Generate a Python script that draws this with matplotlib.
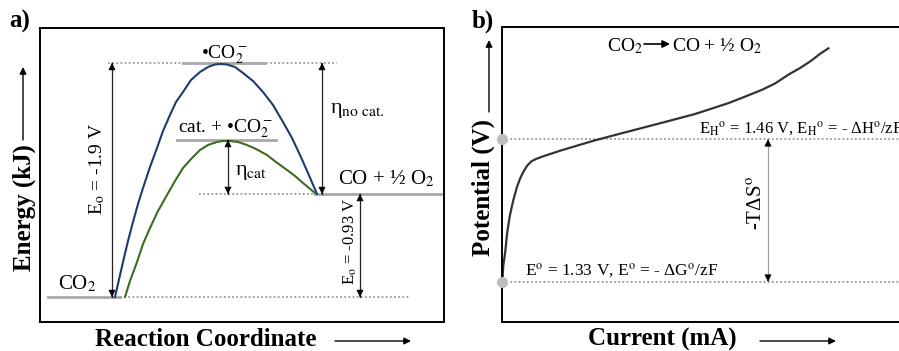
import matplotlib
matplotlib.use("Agg")
import matplotlib.pyplot as plt

plt.rcParams['font.family'] = ['Liberation Serif', 'DejaVu Serif']
plt.rcParams['mathtext.fontset'] = 'stix'

# ---- panel a: energy diagram (arbitrary units, reaction coordinate / energy)
blue_rc = [75, 83, 88, 93, 98, 103, 110, 117, 123, 130, 136, 143, 151, 160, 168,
           175, 181, 187, 195, 203, 213, 223, 233, 243, 252, 260, 268, 277]
blue_e = [25, 60, 81, 100, 118, 134, 155, 174, 191, 207, 220, 230, 242, 250, 255,
          257.5, 258, 257.5, 255, 249, 241, 230, 217, 200, 184, 167, 149, 128]
green_rc = [85, 90, 97, 103, 110, 118, 127, 135, 143, 152, 160, 168, 177, 183,
            190, 198, 207, 216, 227, 236, 247, 255, 263, 269, 275]
green_e = [25, 41, 60, 78, 94, 111, 127, 141, 154, 164, 172, 177, 180, 181,
           181, 180, 177, 173, 167, 160, 152, 146, 139, 134, 129]

level_co2 = 25
level_peak = 259
level_cat = 182
level_co = 128

# ---- panel b: polarisation curve (current in mA, potential in V)
current = [0.01, 0.03, 0.08, 0.13, 0.2, 0.28, 0.37, 0.45, 0.53, 0.63, 0.74, 0.85,
           0.99, 1.49, 2.32, 3.15, 3.99, 4.82, 5.66, 6.08, 6.49, 6.83, 7.16, 7.45,
           7.74, 7.95, 8.16]
potential = [1.330, 1.344, 1.357, 1.375, 1.391, 1.404, 1.416, 1.424, 1.430, 1.436,
             1.440, 1.442, 1.444, 1.450, 1.459, 1.467, 1.475, 1.483, 1.493, 1.499,
             1.505, 1.511, 1.519, 1.525, 1.532, 1.538, 1.543]
e_std = 1.33
e_th = 1.46

W, H = 899, 351
fig = plt.figure(figsize=(W / 100, H / 100), dpi=100)

ax_a = fig.add_axes([40 / W, 29 / H, 404 / W, 294 / H])
ax_b = fig.add_axes([502 / W, 29 / H, 438 / W, 295 / H])

for ax in (ax_a, ax_b):
    ax.set_xticks([])
    ax.set_yticks([])
    for s in ax.spines.values():
        s.set_linewidth(1.4)

GRAY = '#a8a8a8'
DOT = dict(color='#9a9a9a', lw=1.3, ls=(0, (1, 1.3)))


def double_arrow(ax, x, y0, y1, line='#222222', head='black'):
    ax.plot([x, x], [y0, y1], color=line, lw=0.9, zorder=3)
    ax.annotate('', xy=(x, y1), xytext=(0, -1), textcoords='offset points',
                arrowprops=dict(arrowstyle='-|>', color=head, lw=0.5,
                                mutation_scale=11, shrinkA=0, shrinkB=0), zorder=4)
    ax.annotate('', xy=(x, y0), xytext=(0, 1), textcoords='offset points',
                arrowprops=dict(arrowstyle='-|>', color=head, lw=0.5,
                                mutation_scale=11, shrinkA=0, shrinkB=0), zorder=4)


# panel a
ax_a.set_xlim(0, 404)
ax_a.set_ylim(0, 294)

ax_a.plot([68, 297], [level_peak, level_peak], **DOT)
ax_a.plot([80, 369], [level_co2, level_co2], **DOT)
ax_a.plot([159, 275], [level_co, level_co], **DOT)

ax_a.plot([8, 80], [level_co2, level_co2], color=GRAY, lw=2)
ax_a.plot([143, 225], [level_peak, level_peak], color=GRAY, lw=2)
ax_a.plot([137, 236], [level_cat, level_cat], color=GRAY, lw=2)
ax_a.plot([275, 401], [level_co, level_co], color=GRAY, lw=2)

ax_a.plot(blue_rc, blue_e, color='#1f3a70', lw=1.5, solid_joinstyle='round')
ax_a.plot(green_rc, green_e, color='#3d6b24', lw=1.5, solid_joinstyle='round')

double_arrow(ax_a, 72, level_co2, level_peak)
double_arrow(ax_a, 282, level_co, level_peak)
double_arrow(ax_a, 188, level_co, level_cat)
double_arrow(ax_a, 320, level_co2, level_co)

ax_a.text(184, 267, '•CO$_2^-$', ha='center', va='center', fontsize=14)
ax_a.text(186, 193, 'cat. + •CO$_2^-$', ha='center', va='center', fontsize=14)
ax_a.text(195, 149, 'η$_{\\rm cat}$', ha='left', va='center', fontsize=16)
ax_a.text(290, 212, 'η$_{\\rm no\\ cat.}$', ha='left', va='center', fontsize=16)
ax_a.text(298, 143, 'CO + ½ O$_2$', ha='left', va='center', fontsize=15)
ax_a.text(18, 38, 'CO$_2$', ha='left', va='center', fontsize=15)
ax_a.text(57, 153, 'E$_{\\rm o}$ = -1.9 V', rotation=90, ha='center', va='center', fontsize=14)
ax_a.text(310, 81, 'E$_{\\rm o}$ = -0.93 V', rotation=90, ha='center', va='center', fontsize=12)

# panel b
ax_b.set_xlim(0, 438 / 40)
ax_b.set_ylim(1.2932, 1.5625)

ax_b.plot([0, 11], [e_th, e_th], **DOT)
ax_b.plot([0, 11], [e_std, e_std], **DOT)
ax_b.plot([0, 0], [e_std, e_th], ls='none', marker='o', ms=7, color='#bdbdbd',
          clip_on=False, zorder=5)
ax_b.plot(current, potential, color='#333333', lw=1.6, solid_joinstyle='round')

double_arrow(ax_b, 6.65, e_std, e_th, line='#a0a0a0')

ax_b.text(2.63, 1.545, 'CO$_2$', ha='left', va='center', fontsize=14)
ax_b.annotate('', xy=(4.2, 1.547), xytext=(3.55, 1.547),
              arrowprops=dict(arrowstyle='-|>', color='black', lw=1.2,
                              mutation_scale=11, shrinkA=0, shrinkB=0))
ax_b.text(4.25, 1.545, 'CO + ½ O$_2$', ha='left', va='center', fontsize=14)
ax_b.text(4.93, 1.470, 'E$_{\\rm H}$$^{\\rm o}$ = 1.46 V, E$_{\\rm H}$$^{\\rm o}$ = - ΔH$^{\\rm o}$/zF',
          ha='left', va='center', fontsize=12)
ax_b.text(0.575, 1.340, 'E$^{\\rm o}$ = 1.33 V, E$^{\\rm o}$ = - ΔG$^{\\rm o}$/zF',
          ha='left', va='center', fontsize=12.5)
ax_b.text(6.375, 1.402, '-TΔS$^{\\rm o}$', rotation=90, ha='center', va='center', fontsize=15)

# axis labels with arrows, panel tags
BOLD = dict(fontsize=18, fontweight='bold')
fig.text(24 / W, 1 - 208 / H, 'Energy (kJ)', rotation=90, ha='center', va='center', **BOLD)
fig.text(206 / W, 1 - 339 / H, 'Reaction Coordinate', ha='center', va='center', **BOLD)
fig.text(483 / W, 1 - 188 / H, 'Potential (V)', rotation=90, ha='center', va='center', **BOLD)
fig.text(662 / W, 1 - 339 / H, 'Current (mA)', ha='center', va='center', **BOLD)
fig.text(20 / W, 1 - 21 / H, 'a)', ha='center', va='center', **BOLD)
fig.text(483 / W, 1 - 21 / H, 'b)', ha='center', va='center', **BOLD)

ARR = dict(arrowstyle='-|>', color='black', lw=1.0, mutation_scale=10, shrinkA=0, shrinkB=0)
for start, end in [((23, H - 140), (23, H - 67)),
                   ((335, H - 341), (411, H - 341)),
                   ((489, H - 112), (489, H - 40)),
                   ((760, H - 341), (836, H - 341))]:
    ax_a.annotate('', xy=end, xytext=start, xycoords='figure pixels',
                  textcoords='figure pixels', arrowprops=ARR, annotation_clip=False)

fig.savefig('out.png', dpi=100)
